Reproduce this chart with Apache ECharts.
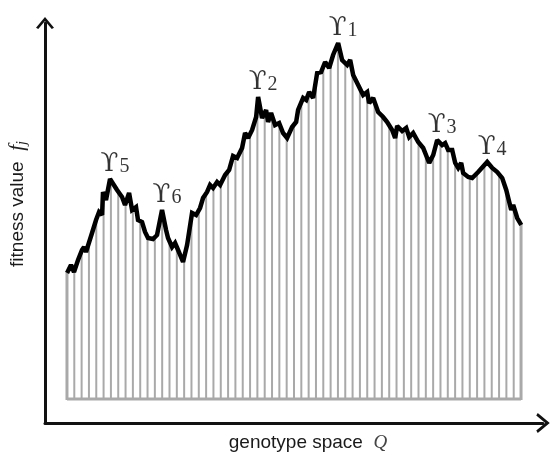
<!DOCTYPE html>
<html>
<head>
<meta charset="utf-8">
<script src="https://cdn.jsdelivr.net/npm/echarts@6/dist/echarts.min.js"></script>
<style>
  html, body { margin: 0; padding: 0; background: #fff; }
  #chart { width: 553px; height: 454px; }
</style>
</head>
<body>
<div id="chart"></div>
<script>
// genotype position / fitness of the jagged landscape outline
var lineX = [3.01, 3.55, 3.96, 4.51, 5.05, 5.33, 5.60, 6.42, 6.97, 7.38,
  7.79, 7.92, 8.33, 8.88, 9.84, 10.52, 10.93, 11.48, 11.89, 12.43,
  12.70, 13.25, 13.66, 14.07, 14.75, 15.30, 15.98, 16.53, 16.80, 17.35,
  17.76, 18.17, 18.85, 19.40, 20.08, 20.63, 21.17, 21.58, 22.13, 22.54,
  22.95, 23.50, 23.91, 24.59, 25.14, 25.68, 26.23, 26.91, 27.32, 27.73,
  28.28, 28.83, 29.10, 29.64, 30.19, 30.46, 30.87, 31.42, 31.97, 32.51,
  33.06, 33.74, 34.29, 34.56, 35.25, 35.66, 36.07, 36.61, 37.16, 37.70,
  38.25, 38.80, 39.34, 40.03, 40.57, 41.26, 41.67, 42.08, 42.76, 43.44,
  43.99, 44.26, 44.81, 45.49, 46.17, 46.72, 47.40, 47.81, 48.09, 48.77,
  49.32, 49.73, 50.27, 50.96, 51.64, 52.46, 53.01, 53.55, 54.23, 54.64,
  55.05, 55.60, 56.01, 56.42, 56.83, 57.10, 57.79, 58.33, 59.15, 60.38,
  61.07, 61.75, 62.43, 62.98, 63.66, 63.93, 64.48, 65.03]
var lineY = [37.5, 39.5, 37.75, 40.75, 43.25, 44, 42.75, 47.5, 50.75, 52.75,
  52, 57.75, 55.75, 61, 58.25, 56.5, 54.5, 57.5, 53.25, 54,
  50.75, 50.25, 47.75, 46.25, 46, 47, 53.25, 48.25, 46.25, 44,
  45, 43.25, 40.25, 44.5, 52.5, 52, 53.75, 56.25, 57.75, 59.5,
  58.75, 60.25, 59.5, 62, 63.25, 66.75, 66.25, 68.75, 72.5, 71.25,
  73.25, 76.5, 81.5, 76.25, 78.25, 75.25, 77.5, 74.5, 75, 72.5,
  71.25, 74, 75.25, 78.25, 81.25, 80.75, 82.75, 81.25, 87.5, 87.75,
  90.25, 88.75, 92, 95, 90.75, 89.5, 90.75, 87, 84.5, 82,
  82.75, 80, 81.25, 77.75, 76.5, 75.25, 73.25, 71.25, 74.25, 73,
  73.75, 71.5, 72.5, 70.25, 68.75, 65, 67, 70.75, 69.5, 70,
  68.25, 68.25, 65, 63.75, 65, 62.5, 61.5, 61.25, 62.75, 65.25,
  63.75, 62.75, 61.25, 58.25, 53.25, 54.5, 51.25, 49.5]

// one gray stem per genotype
var barX = [3, 4, 5, 6, 7, 8, 9, 10, 11, 12, 13, 14, 15, 16, 17, 18, 19, 20, 21, 22,
  23, 24, 25, 26, 27, 28, 29, 30, 31, 32, 33, 34, 35, 36, 37, 38, 39, 40, 41, 42,
  43, 44, 45, 46, 47, 48, 49, 50, 51, 52, 53, 54, 55, 56, 57, 58, 59, 60, 61, 62,
  63, 64, 65]
var barY = [37.5, 38, 43, 45, 51, 57.4, 60.6, 57.8, 54.9, 53.4,
  50.5, 46.5, 46.5, 53, 45.4, 44, 41.4, 51.5, 53.2, 57.4,
  58.9, 59.8, 62.9, 66.5, 69.6, 72.2, 79.6, 77.6, 76.8, 74.9,
  71.4, 74.6, 80.2, 82.4, 86.2, 89.1, 90, 94.8, 90, 87.8,
  83.6, 82.6, 80.3, 76.8, 74.4, 73.3, 73.2, 72, 70.2, 67.1,
  67, 69.9, 68.4, 65, 63.4, 61.4, 62.5, 64.5, 63.9, 62.4,
  58.1, 54, 49.6]
var baseLevel = 6

// local optima Υ1..Υ6 (index into the outline)
var peakNames = ['1', '2', '3', '4', '5', '6']
var peakIndex = [73, 52, 97, 109, 13, 26]

var chart = echarts.init(document.getElementById('chart'))

var lineData = lineX.map(function (x, i) { return [x, lineY[i]] })
var barData = barX.map(function (x, i) { return [x, barY[i]] })
var peakData = peakIndex.map(function (idx, i) {
  return { value: lineData[idx], name: peakNames[i] }
})

var arrowPath = 'path://M0,12 L10,0 L20,12 L17.5,13.5 L10,4.5 L2.5,13.5 Z'

function renderStem (params, api) {
  var x = api.value(0)
  var top = api.coord([x, api.value(1)])
  var bottom = api.coord([x, baseLevel])
  var edge = params.dataIndex === 0 || params.dataIndex === barX.length - 1
  return {
    type: 'line',
    shape: { x1: top[0], y1: top[1], x2: bottom[0], y2: bottom[1] + 1 },
    style: { stroke: '#a9a9a9', lineWidth: edge ? 3 : 2 }
  }
}

var option = {
  animation: false,
  backgroundColor: '#fff',
  grid: { left: 45, right: 10, top: 23, bottom: 31, outerBoundsMode: 'none', containLabel: false },
  xAxis: {
    type: 'value',
    min: 0,
    max: 68,
    name: '{t|genotype space  }{q|Q}',
    nameLocation: 'middle',
    nameGap: 10,
    nameTextStyle: {
      padding: [0, 0, 0, 28],
      rich: {
        t: { fontFamily: 'Liberation Sans', fontSize: 19, color: '#1a1a1a' },
        q: { fontFamily: 'Liberation Serif', fontStyle: 'italic', fontSize: 19, color: '#444' }
      }
    },
    axisLine: {
      lineStyle: { color: '#111', width: 3 },
      symbol: ['none', arrowPath],
      symbolSize: [20, 14]
    },
    axisTick: { show: false },
    axisLabel: { show: false },
    splitLine: { show: false }
  },
  yAxis: {
    type: 'value',
    min: 0,
    max: 100,
    name: '{t|fitness value  }{f|f}{j|j}',
    nameLocation: 'middle',
    nameRotate: 90,
    nameGap: 16,
    nameTextStyle: {
      padding: [0, 0, 0, 38],
      rich: {
        t: { fontFamily: 'Liberation Sans', fontSize: 19, color: '#1a1a1a' },
        f: { fontFamily: 'Liberation Serif', fontStyle: 'italic', fontSize: 21, color: '#222' },
        j: { fontFamily: 'Liberation Serif', fontStyle: 'italic', fontSize: 14, color: '#222', padding: [9, 0, 0, 0], verticalAlign: 'bottom' }
      }
    },
    axisLine: {
      lineStyle: { color: '#111', width: 3 },
      symbol: ['none', arrowPath],
      symbolSize: [18, 14]
    },
    axisTick: { show: false },
    axisLabel: { show: false },
    splitLine: { show: false }
  },
  series: [
    {
      type: 'custom',
      renderItem: renderStem,
      data: barData,
      z: 1
    },
    {
      type: 'line',
      data: [[barX[0], baseLevel], [barX[barX.length - 1], baseLevel]],
      symbol: 'none',
      lineStyle: { color: '#a9a9a9', width: 3 },
      z: 2
    },
    {
      type: 'line',
      data: lineData,
      symbol: 'none',
      lineStyle: { color: '#000', width: 4.5, join: 'miter', miterLimit: 2 },
      z: 3
    },
    {
      type: 'scatter',
      data: peakData,
      symbolSize: 0,
      z: 4,
      label: {
        show: true,
        position: 'top',
        distance: 2,
        offset: [5, 0],
        formatter: function (p) { return '{u|\u03d2}{s|' + p.name + '}' },
        rich: {
          u: { fontFamily: 'DejaVu Serif', fontSize: 26, color: '#000', verticalAlign: 'top', lineHeight: 26 },
          s: { fontFamily: 'Liberation Serif', fontSize: 20, color: '#000', verticalAlign: 'bottom', lineHeight: 18, padding: [12, 0, 0, 1] }
        }
      }
    }
  ]
}

chart.setOption(option)
</script>
</body>
</html>
